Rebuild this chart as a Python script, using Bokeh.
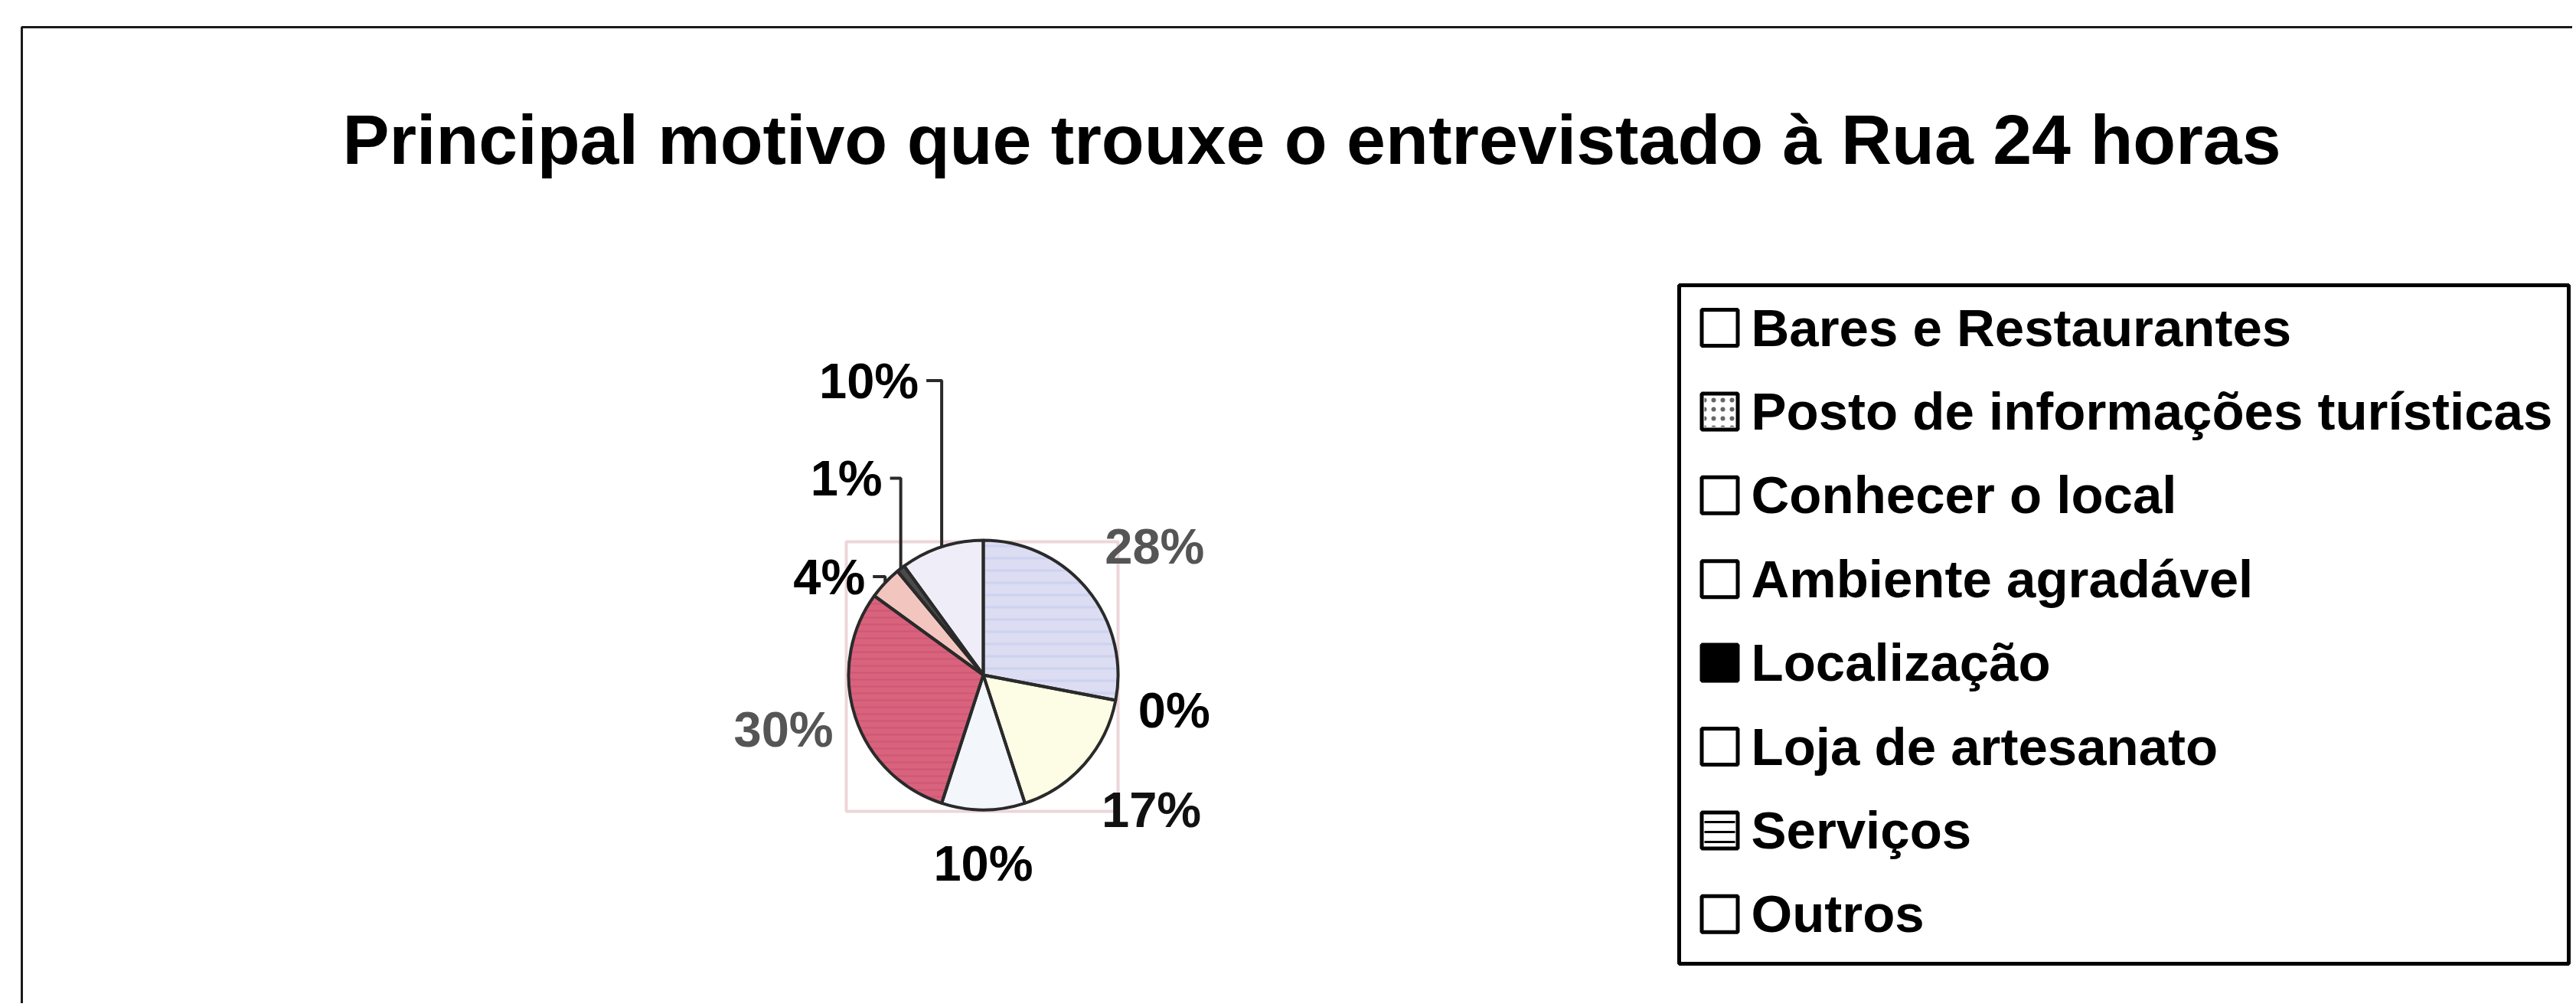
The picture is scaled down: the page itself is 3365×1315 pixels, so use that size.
import numpy as np
from bokeh.plotting import figure
from bokeh.models import Range1d, ColumnDataSource
from bokeh.core.properties import value
from bokeh.embed import file_html
from bokeh.resources import INLINE

# ---------------- data ----------------
title_text = "Principal motivo que trouxe o entrevistado à Rua 24 horas"
categories = ["Bares e Restaurantes", "Posto de informações turísticas",
              "Conhecer o local", "Ambiente agradável", "Localização",
              "Loja de artesanato", "Serviços", "Outros"]
percent = [28, 0, 17, 10, 30, 4, 1, 10]
percent_labels = ["28%", "0%", "17%", "10%", "30%", "4%", "1%", "10%"]

# ---------------- styles ----------------
slice_colors = ["#dcdcf2", "#ffffff", "#fdfde5", "#f3f6fb", "#d9627c",
                "#f2c6bf", "#4a4a4a", "#efeef8"]
slice_texture = [("#b9c6ee", 0.45, 16, 3), None, None, None,
                 ("#b5466a", 0.35, 9, 2), None, None, None]
label_colors = ["#555555", "#000000", "#111111", "#000000", "#555555",
                "#000000", "#000000", "#000000"]
legend_fill = ["white", "white", "white", "white", "black", "white", "white", "white"]
FONT = value("Liberation Sans")

W, H = 3360, 1310


def X(px):
    return px


def Y(py):
    return H - py


p = figure(width=W, height=H, x_range=Range1d(0, W), y_range=Range1d(0, H),
           output_backend="svg", toolbar_location=None, min_border=0,
           x_axis_location=None, y_axis_location=None)
p.grid.visible = False
p.outline_line_color = None
p.background_fill_color = "white"
p.border_fill_color = "white"

# outer frame (top and left edges visible)
p.line([X(28), X(28), X(3400)], [Y(1400), Y(35), Y(35)],
       line_color="#1a1a1a", line_width=3)

# title (y = cap centre, small correction for 'middle' baseline)
TFS = 91.5
p.text(x=[X(1713)], y=[Y(202 - 0.358 * TFS + 12)], text=[title_text], text_font=FONT,
       text_font_style="bold", text_font_size=f"{TFS}px", text_align="center",
       text_baseline="middle", text_color="black")

# ---------------- pie ----------------
CX, CY, R = 1284, 881, 176
# faint plot-area rectangle
p.quad(left=[X(CX - 179)], right=[X(CX + 176)], top=[Y(CY - 174)], bottom=[Y(CY + 178)],
       fill_color=None, line_color="#ecd6d9", line_width=4)

vals = np.array(percent, dtype=float)
frac = vals / vals.sum()
cum = np.concatenate([[0.0], np.cumsum(frac)])
start = np.pi / 2 - 2 * np.pi * cum[:-1]
end = np.pi / 2 - 2 * np.pi * cum[1:]
nz = vals > 0
src = ColumnDataSource(dict(start=start[nz], end=end[nz],
                            color=[c for c, k in zip(slice_colors, nz) if k]))
p.wedge(x=X(CX), y=Y(CY), radius=R, start_angle="start", end_angle="end",
        direction="clock", fill_color="color", line_color=None, source=src)
# scanned-texture stripes
for i, tex in enumerate(slice_texture):
    if tex is None or vals[i] == 0:
        continue
    col, alpha, scale, weight = tex
    p.wedge(x=X(CX), y=Y(CY), radius=R, start_angle=start[i], end_angle=end[i],
            direction="clock", fill_color=None, line_color=None,
            hatch_pattern="horizontal_line", hatch_color=col, hatch_alpha=alpha,
            hatch_scale=scale, hatch_weight=weight)
p.wedge(x=X(CX), y=Y(CY), radius=R, start_angle="start", end_angle="end",
        direction="clock", fill_color=None, line_color="#2a2a2a",
        line_width=4, source=src)

# labels (positions are cap centres)
LFS = 65
cap = 0.716 * LFS
gap = 30
mid = np.pi * (cum[:-1] + cum[1:])  # clockwise from top
leader_rise = {5: 8, 6: 118, 7: 217}
leader_h = {5: 16, 6: 14, 7: 20}
lx, ly, lt, la, lc = [], [], [], [], []
for i, th in enumerate(mid):
    sx, sy = np.sin(th), np.cos(th)
    if i in leader_rise:
        ex, ey = CX + R * sx, CY - R * sy
        ty = ey - leader_rise[i]
        hx = ex - leader_h[i]
        p.line([X(ex), X(ex), X(hx)], [Y(ey), Y(ty), Y(ty)],
               line_color="#2a2a2a", line_width=4)
        lx.append(X(hx - 10)); ly.append(Y(ty)); la.append("right")
    else:
        d = R + gap
        ax, ay = CX + d * sx, CY - d * sy
        align = "left" if sx > 0.3 else ("right" if sx < -0.3 else "center")
        if sy > 0.4:
            cc = ay - 0.212 * LFS - cap / 2
        elif sy < -0.4:
            cc = ay + 0.19 * LFS + cap / 2 + 4
        else:
            cc = ay + 7
        lx.append(X(ax)); ly.append(Y(cc)); la.append(align)
    lt.append(percent_labels[i]); lc.append(label_colors[i])

p.text(x="x", y="y", text="t", text_align="a", text_color="c",
       text_font=FONT, text_font_style="bold", text_font_size=f"{LFS}px",
       text_baseline="middle",
       source=ColumnDataSource(dict(x=lx, y=ly, t=lt, a=la, c=lc)))

# ---------------- legend ----------------
p.quad(left=[X(2193)], right=[X(3355)], top=[Y(372)], bottom=[Y(1258)],
       fill_color="white", line_color="black", line_width=5)
GFS = 69
n = len(categories)
centers = [427.5 + 109.4 * i for i in range(n)]
p.rect(x=[X(2246)] * n, y=[Y(c) for c in centers], width=47, height=47,
       fill_color=legend_fill, line_color="black", line_width=5)
# patterned swatches
p.rect(x=[X(2246)], y=[Y(centers[1])], width=40, height=40, fill_color=None,
       line_color=None, hatch_pattern="dot", hatch_color="black",
       hatch_scale=12, hatch_weight=2, hatch_alpha=0.6)
p.rect(x=[X(2246)], y=[Y(centers[6])], width=40, height=40, fill_color=None,
       line_color=None, hatch_pattern="horizontal_line", hatch_color="black",
       hatch_scale=13, hatch_weight=3)
p.text(x=[X(2287)] * n, y=[Y(c) for c in centers], text=categories,
       text_font=FONT, text_font_style="bold", text_font_size=f"{GFS}px",
       text_align="left", text_baseline="middle", text_color="black")

open("out.html", "w").write(file_html(p, INLINE))
